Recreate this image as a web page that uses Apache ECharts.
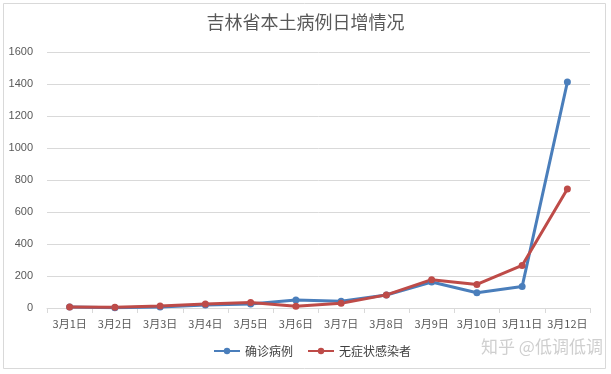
<!DOCTYPE html>
<html>
<head>
<meta charset="utf-8">
<script src="https://cdn.jsdelivr.net/npm/echarts@6/dist/echarts.min.js"></script>
<style>
html,body{margin:0;padding:0;background:#fff;}
#c{width:611px;height:374px;}
</style>
</head>
<body>
<div id="c"></div>
<script>
const categories = ['3月1日','3月2日','3月3日','3月4日','3月5日','3月6日','3月7日','3月8日','3月9日','3月10日','3月11日','3月12日'];
const confirmed = [6, 2, 7, 18, 25, 50, 42, 81, 162, 95, 134, 1412];
const asymptomatic = [6, 5, 13, 25, 35, 11, 30, 82, 177, 147, 266, 744];
const yTicks = { min: 0, max: 1600, interval: 200 };

const fontFam = '"Noto Sans CJK SC", "Microsoft YaHei", sans-serif';
const chart = echarts.init(document.getElementById('c'), null, {renderer: 'canvas'});
chart.setOption({
  animation: false,
  backgroundColor: '#fff',
  title: {
    text: '吉林省本土病例日增情况',
    left: 'center',
    top: 8,
    textStyle: { fontFamily: fontFam, fontSize: 18, fontWeight: 'normal', color: '#595959' }
  },
  legend: {
    bottom: 12,
    left: 208,
    itemWidth: 26,
    itemHeight: 8,
    itemGap: 14,
    textStyle: { fontFamily: fontFam, fontSize: 12, color: '#404040' },
    data: ['确诊病例', '无症状感染者']
  },
  grid: { left: 47, right: 21, top: 52, bottom: 66, containLabel: false },
  xAxis: {
    type: 'category',
    data: categories,
    boundaryGap: true,
    axisLine: { lineStyle: { color: '#d9d9d9' } },
    axisTick: { show: true, alignWithLabel: false, length: 5, lineStyle: { color: '#d9d9d9' } },
    axisLabel: { fontFamily: fontFam, fontSize: 11, color: '#595959', margin: 10, interval: 0 }
  },
  yAxis: {
    type: 'value',
    min: yTicks.min, max: yTicks.max, interval: yTicks.interval,
    axisLine: { show: false },
    axisTick: { show: false },
    splitLine: { lineStyle: { color: '#d9d9d9' } },
    axisLabel: { fontFamily: 'Arial, "Liberation Sans", sans-serif', fontSize: 11, color: '#595959', margin: 14, formatter: function (v) { return String(v); } }
  },
  series: [
    {
      name: '确诊病例', type: 'line', data: confirmed,
      symbol: 'circle', symbolSize: 7,
      lineStyle: { width: 3, color: '#4a7ebb' },
      itemStyle: { color: '#4a7ebb' }
    },
    {
      name: '无症状感染者', type: 'line', data: asymptomatic,
      symbol: 'circle', symbolSize: 7,
      lineStyle: { width: 3, color: '#be4b48' },
      itemStyle: { color: '#be4b48' }
    }
  ],
  graphic: [
    { type: 'rect', shape: { x: 3.5, y: 3.5, width: 602, height: 365 }, style: { fill: 'none', stroke: '#d9d9d9', lineWidth: 1 }, silent: true },
    { type: 'text', left: 481, top: 338, style: { text: '知乎 @低调低调', fontFamily: fontFam, fontSize: 17, fill: '#cfcfcf' }, silent: true }
  ]
});
</script>
</body>
</html>
